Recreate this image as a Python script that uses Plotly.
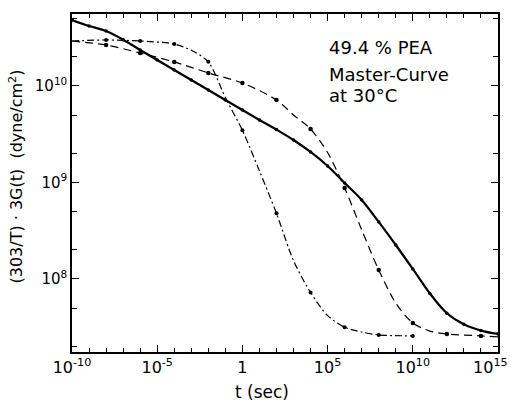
import plotly.graph_objects as go

# ---- data (log10 values) ----
# Curve A: dash-dot, relaxes first
a_logt = [-10, -8, -6, -4, -3, -2, -1, 0, 1, 2, 3, 4, 5, 6, 7, 8, 10]
a_logG = [10.466, 10.477, 10.466, 10.435, 10.37, 10.25, 9.88, 9.54, 9.12, 8.68, 8.19, 7.86, 7.62, 7.50, 7.45, 7.42, 7.41]
a_mark_t = [-8, -6, -4, -2, 0, 2, 4, 6, 8, 10]
a_mark_G = [10.477, 10.466, 10.435, 10.25, 9.54, 8.68, 7.86, 7.50, 7.42, 7.41]

# Curve B: dashed
b_logt = [-10, -8, -6, -4, -2, 0, 2, 3, 4, 5, 6, 7, 8, 9, 10, 11, 12, 14, 15]
b_logG = [10.466, 10.425, 10.342, 10.249, 10.135, 10.031, 9.855, 9.70, 9.554, 9.31, 8.943, 8.51, 8.093, 7.75, 7.544, 7.46, 7.43, 7.41, 7.40]
b_mark_t = [-8, -6, -4, -2, 0, 2, 4, 6, 8, 10, 12, 14]
b_mark_G = [10.425, 10.342, 10.249, 10.135, 10.031, 9.855, 9.554, 8.943, 8.093, 7.544, 7.43, 7.41]

# Curve C: solid master curve
c_logt = [-10, -9, -8, -7, -6, -5, -4, -3, -2, -1, 0, 1, 2, 3, 4, 5, 6, 7, 8, 9, 10, 11, 12, 13, 14, 15]
c_logG = [10.684, 10.622, 10.570, 10.48, 10.373, 10.269, 10.166, 10.062, 9.959, 9.855, 9.751, 9.648, 9.548, 9.44,
          9.316, 9.171, 8.995, 8.819, 8.591, 8.352, 8.104, 7.85, 7.645, 7.53, 7.465, 7.430]

x_major = [-10, -5, 0, 5, 10, 15]
x_major_text = ["10<sup>-10</sup>", "10<sup>-5</sup>", "1", "10<sup>5</sup>", "10<sup>10</sup>",
                "10<sup>15</sup>\u00a0\u00a0\u00a0"]
y_major = [8, 9, 10]
y_major_text = ["10<sup>8</sup>", "10<sup>9</sup>", "10<sup>10</sup>"]

p = lambda v: [10 ** x for x in v]

fig = go.Figure()
fig.add_trace(go.Scatter(x=p(a_logt), y=p(a_logG), mode="lines",
                         line=dict(color="black", width=1.2, dash="7px,3px,2px,3px", shape="spline", smoothing=0.8)))
fig.add_trace(go.Scatter(x=p(a_mark_t), y=p(a_mark_G), mode="markers",
                         marker=dict(color="black", size=4)))
fig.add_trace(go.Scatter(x=p(b_logt), y=p(b_logG), mode="lines",
                         line=dict(color="black", width=1.2, dash="8px,5px", shape="spline", smoothing=0.8)))
fig.add_trace(go.Scatter(x=p(b_mark_t), y=p(b_mark_G), mode="markers",
                         marker=dict(color="black", size=4.5)))
fig.add_trace(go.Scatter(x=p(c_logt), y=p(c_logG), mode="lines+markers",
                         line=dict(color="black", width=2.2, shape="spline", smoothing=1.0),
                         marker=dict(color="black", size=3.5)))

font = "DejaVu Sans"
fig.update_layout(
    template="none",
    width=511, height=406,
    margin=dict(l=72, r=13, t=14, b=54, autoexpand=False),
    paper_bgcolor="white", plot_bgcolor="white",
    showlegend=False,
    font=dict(family=font, color="black", size=14),
)
fig.update_xaxes(
    type="log", range=[-10, 15], automargin=False, ticklabeloverflow="allow",
    tickmode="array", tickvals=p(x_major), ticktext=x_major_text,
    ticks="inside", ticklen=7, tickwidth=1.2, tickcolor="black",
    minor=dict(tickmode="array", tickvals=p(list(range(-10, 16))), ticks="inside", ticklen=4, tickwidth=1, tickcolor="black"),
    showline=True, linecolor="black", linewidth=1.5, mirror="ticks",
    showgrid=False, zeroline=False,
    tickfont=dict(size=16),
)
y_minor = []
for d in range(7, 11):
    for m in (2, 5):
        y_minor.append(m * 10 ** d)
fig.update_yaxes(
    type="log", range=[7.243, 10.746], automargin=False, ticklabeloverflow="allow",
    tickmode="array", tickvals=p(y_major), ticktext=y_major_text,
    ticks="inside", ticklen=7, tickwidth=1.2, tickcolor="black",
    minor=dict(tickmode="array", tickvals=y_minor, ticks="inside", ticklen=5, tickwidth=1, tickcolor="black"),
    showline=True, linecolor="black", linewidth=1.5, mirror="ticks",
    showgrid=False, zeroline=False,
    tickfont=dict(size=15),
)
fig.add_annotation(text="t (sec)", xref="paper", yref="paper", x=0.446, y=-0.118,
                   xanchor="center", yanchor="middle", showarrow=False, font=dict(size=17))
fig.add_annotation(text="(303/T) · 3G(t)  (dyne/cm<sup>2</sup>)", xref="paper", yref="paper",
                   x=-0.13, y=0.518, xanchor="center", yanchor="middle", textangle=-90,
                   showarrow=False, font=dict(size=16))
for txt, yy in [("49.4 % PEA", 0.902), ("Master-Curve", 0.822), ("at 30°C", 0.760)]:
    fig.add_annotation(text=txt, xref="paper", yref="paper",
                       x=0.599, y=yy, xanchor="left", yanchor="middle", align="left",
                       showarrow=False, font=dict(size=18))

fig.write_html("out.html", config={"displayModeBar": False},
               post_script="document.body.style.margin='0';document.body.style.padding='0';")
